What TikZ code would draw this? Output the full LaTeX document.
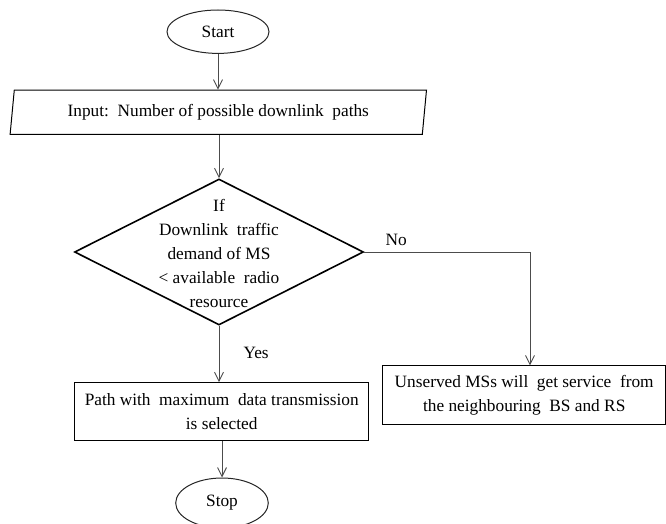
\documentclass[tikz,border=0pt]{standalone}
\usepackage{fontspec}
\setmainfont{Liberation Serif}
\usetikzlibrary{shapes.geometric,arrows.meta}

\begin{document}
\begin{tikzpicture}[x=1pt,y=-1pt,
    every node/.style={font=\fontsize{17.3}{24.2}\selectfont},
    terminal/.style={draw=black!85, line width=1pt, ellipse, inner sep=0pt},
    iobox/.style={draw=black, line width=1pt, trapezium, trapezium left angle=79,
        trapezium right angle=101, trapezium stretches=true, inner sep=0pt,
        minimum width=416.7pt, minimum height=44.3pt},
    decision/.style={draw=black, line width=1.6pt, diamond, inner sep=0pt,
        minimum width=289pt, minimum height=146pt},
    procbox/.style={draw=black, line width=1pt, rectangle, inner sep=0pt, align=center},
    flow/.style={draw=black!70, line width=0.9pt, -{Straight Barb[length=9pt,width=9pt]}}]
    \useasboundingbox (0,0) rectangle (666,524);

    \node[terminal, minimum width=102pt, minimum height=43.4pt] (start) at (218,31.7) {Start};
    \node[iobox] (input) at (218.3,112.2) {Input:\ \ Number of possible downlink\ \ paths};

    \node[decision] (dec) at (219,252) {};
    \node[align=center] (dectext) at (219,253.5)
        {If\\Downlink\ \ traffic\\demand of MS\\< available\ \ radio\\resource};

    \node[procbox, minimum width=294pt, minimum height=58.3pt] (path) at (221.7,411.8)
        {Path with\ \ maximum\ \ data transmission\\is selected};
    \node[procbox, minimum width=283pt, minimum height=58.7pt] (unserved) at (524.2,395.3)
        {Unserved MSs will\ \ get service\ \ from\\the neighbouring\ \ BS and RS};

    \node[terminal, minimum width=92.6pt, minimum height=50pt] (stop) at (222,503) {Stop};

    \coordinate (nobend) at (530,252);

    \draw[flow] (start) -- (input.north -| start.south);
    \draw[flow] (input.south -| dec.north) -- (dec.north);
    \draw[flow] (dec.south) -- (path.north -| dec.south);
    \draw[flow] (path.south -| stop.north) -- (stop.north);
    \draw[flow] (dec.east) -- (nobend) -- (nobend |- unserved.north);

    \node[anchor=west] (yes) at (240,353) {Yes};
    \node[anchor=west] (no) at (382,240) {No};
\end{tikzpicture}
\end{document}
